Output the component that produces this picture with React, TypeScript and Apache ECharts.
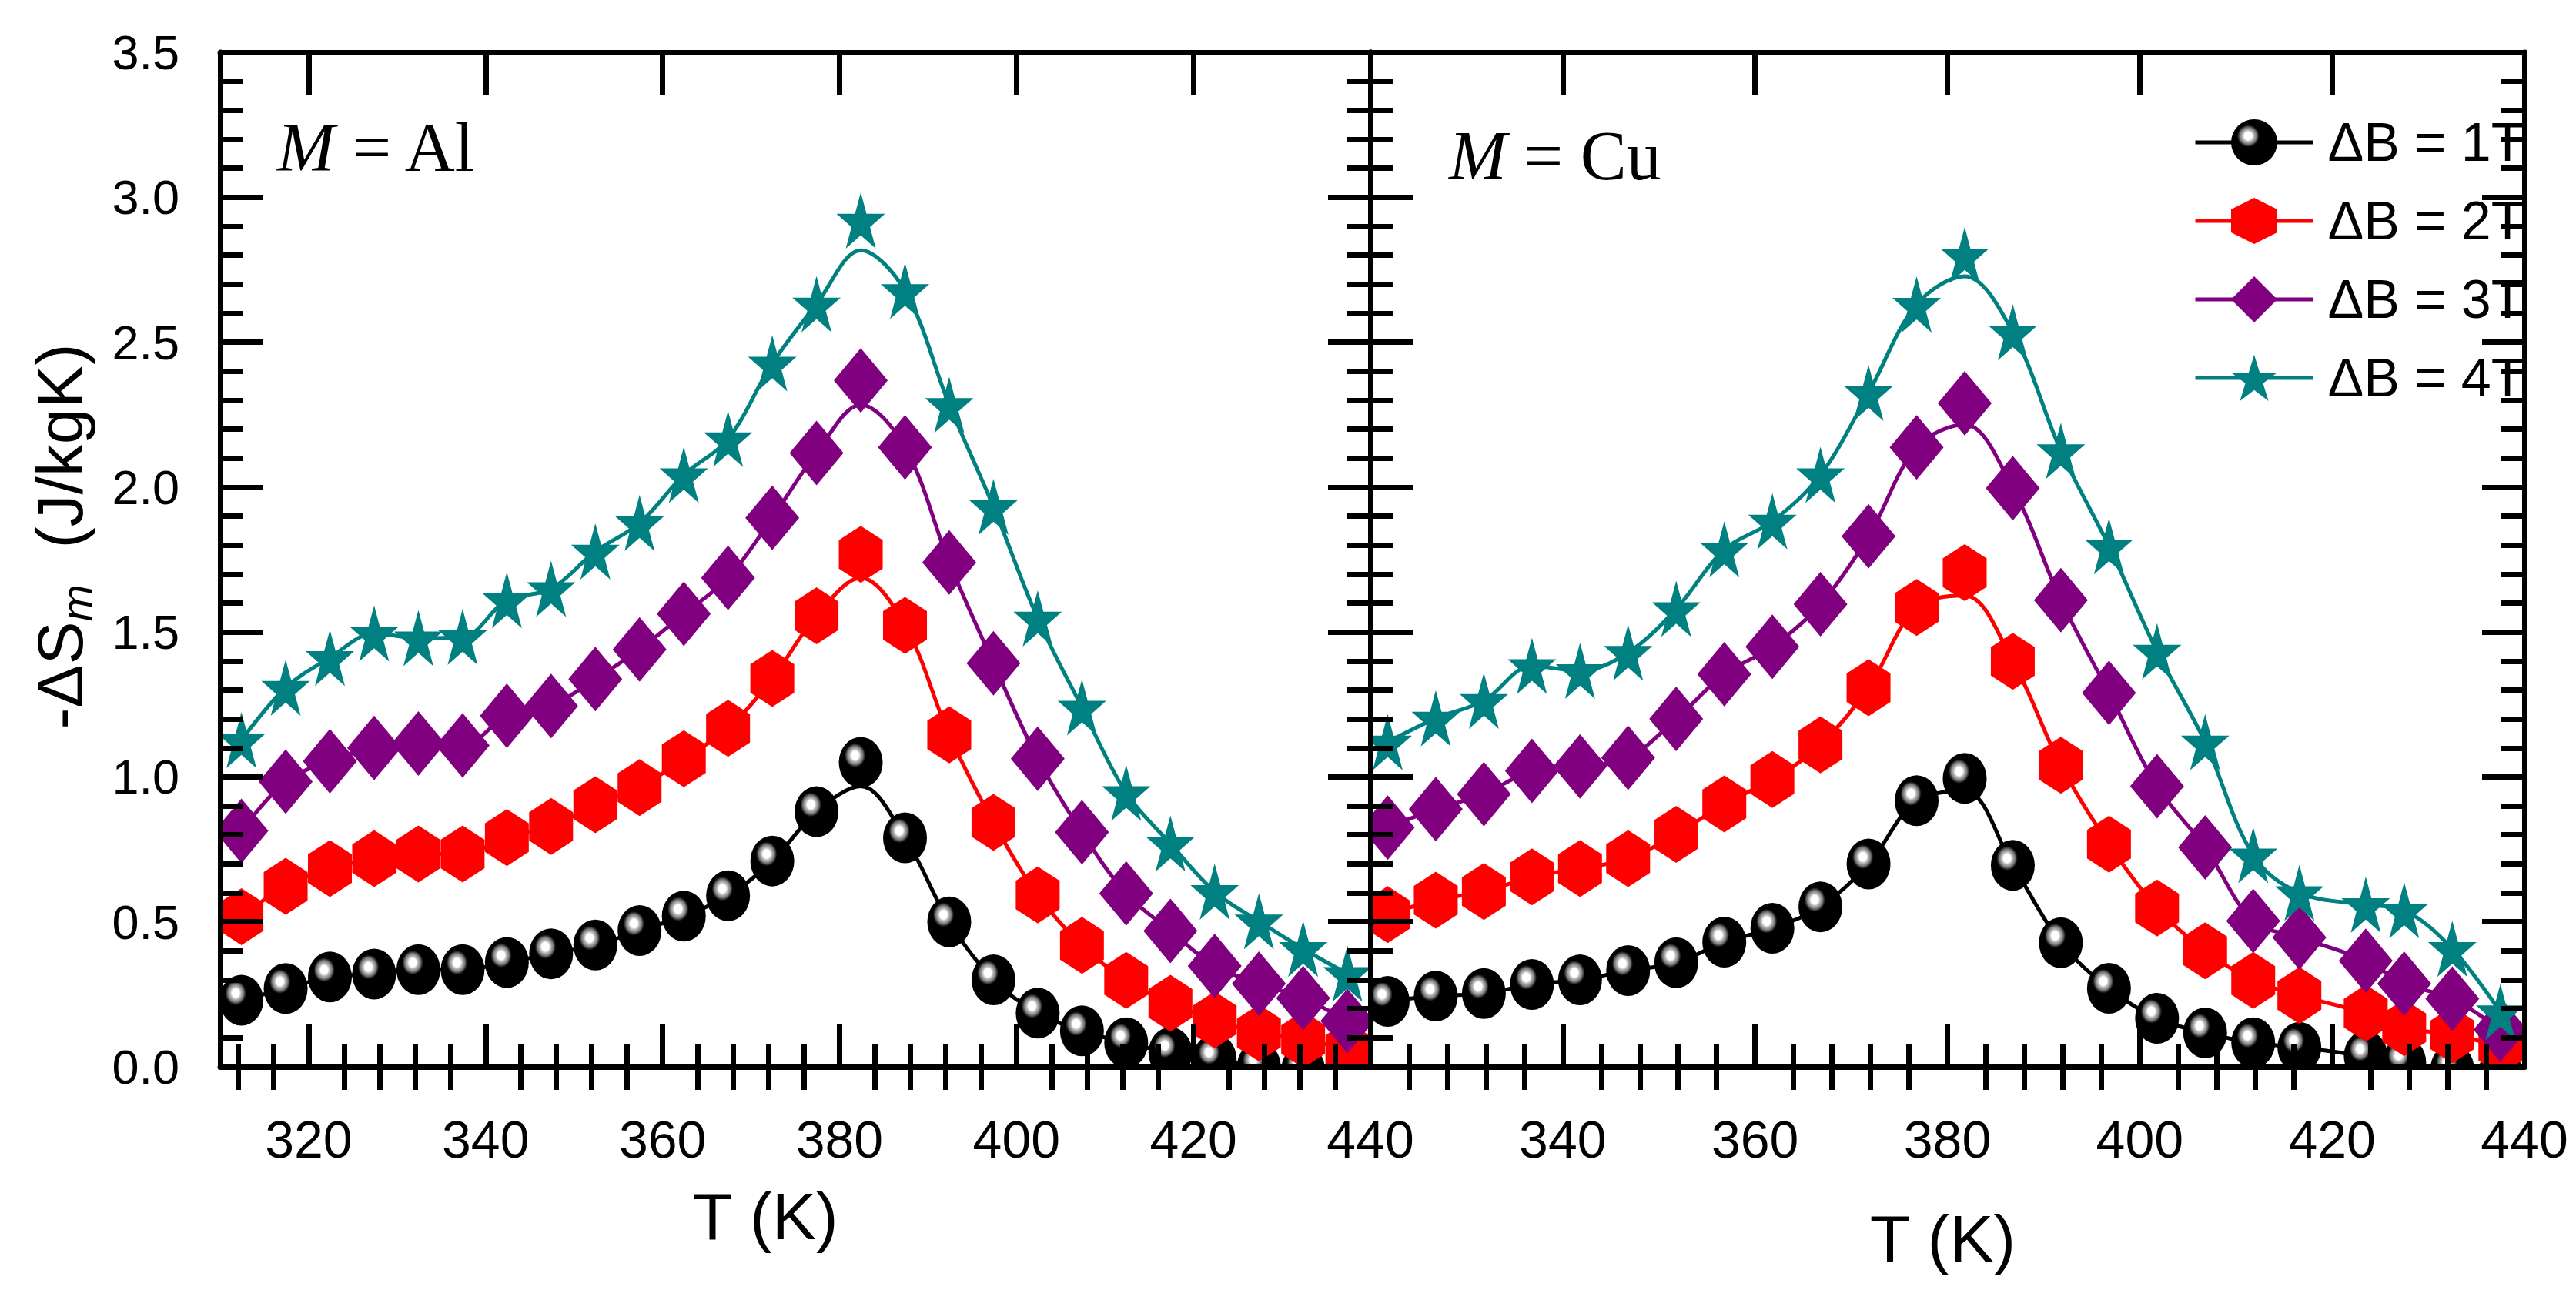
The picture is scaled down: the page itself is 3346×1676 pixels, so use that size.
import { useEffect, useRef } from 'react';
import * as echarts from 'echarts';

// temperatures (K) of the measured points
const AL_T = [312.4, 317.4, 322.4, 327.4, 332.4, 337.4, 342.4, 347.4, 352.4, 357.4, 362.4, 367.4, 372.4,
  377.4, 382.4, 387.4, 392.4, 397.4, 402.4, 407.4, 412.4, 417.4, 422.4, 427.4, 432.4, 437.4];
const CU_T = [321.8, 326.8, 331.8, 336.8, 341.8, 346.8, 351.8, 356.8, 361.8, 366.8, 371.8, 376.8,
  381.8, 386.8, 391.8, 396.8, 401.8, 406.8, 411.8, 416.6, 423.5, 427.5, 432.5, 437.5];

// -ΔSm (J/kgK), M = Al
const AL_1T = [0.23, 0.27, 0.31, 0.32, 0.335, 0.335, 0.36, 0.39, 0.42, 0.47, 0.52, 0.59, 0.71,
  0.88, 1.05, 0.79, 0.5, 0.3, 0.185, 0.124, 0.083, 0.049, 0.026, 0.0, -0.01, -0.02];
const AL_2T = [0.518, 0.623, 0.684, 0.718, 0.734, 0.734, 0.791, 0.829, 0.904, 0.963, 1.063, 1.168, 1.34,
  1.556, 1.768, 1.523, 1.145, 0.843, 0.593, 0.419, 0.298, 0.219, 0.162, 0.117, 0.094, 0.06];
const AL_3T = [0.814, 0.984, 1.054, 1.1, 1.115, 1.109, 1.211, 1.245, 1.338, 1.44, 1.563, 1.687, 1.894,
  2.118, 2.368, 2.137, 1.74, 1.392, 1.063, 0.809, 0.598, 0.469, 0.348, 0.287, 0.237, 0.158];
const AL_4T = [1.127, 1.308, 1.411, 1.495, 1.479, 1.483, 1.61, 1.649, 1.778, 1.876, 2.042, 2.166, 2.427,
  2.631, 2.92, 2.677, 2.284, 1.932, 1.547, 1.24, 0.945, 0.77, 0.604, 0.502, 0.407, 0.321];
// the fitted curve sits below the marker at the peak
const AL_PEAK_INDEX = 14;
const AL_FIT_PEAK = [0.968, 1.687, 2.284, 2.817];

// -ΔSm (J/kgK), M = Cu
const CU_1T = [0.226, 0.244, 0.253, 0.284, 0.3, 0.332, 0.359, 0.43, 0.478, 0.552, 0.7, 0.918,
  0.995, 0.695, 0.428, 0.271, 0.167, 0.117, 0.083, 0.067, 0.037, 0.015, -0.008, -0.02];
const CU_2T = [0.525, 0.575, 0.605, 0.655, 0.684, 0.718, 0.802, 0.907, 0.991, 1.111, 1.308, 1.585,
  1.705, 1.399, 1.04, 0.768, 0.548, 0.4, 0.298, 0.246, 0.185, 0.135, 0.11, 0.071];
const CU_3T = [0.825, 0.889, 0.941, 1.021, 1.036, 1.066, 1.2, 1.354, 1.449, 1.596, 1.83, 2.137,
  2.289, 1.996, 1.61, 1.29, 0.968, 0.757, 0.503, 0.446, 0.366, 0.287, 0.235, 0.128];
const CU_4T = [1.12, 1.202, 1.263, 1.383, 1.366, 1.429, 1.58, 1.785, 1.882, 2.042, 2.325, 2.63,
  2.8, 2.534, 2.125, 1.796, 1.433, 1.12, 0.73, 0.6, 0.559, 0.54, 0.407, 0.189];
const CU_PEAK_INDEX = 12;
const CU_FIT_PEAK = [0.95, 1.626, 2.216, 2.727];

const SERIES_NAMES = ['ΔB = 1T', 'ΔB = 2T', 'ΔB = 3T', 'ΔB = 4T'];

// tick values
const AL_MAJOR = [320, 340, 360, 380, 400, 420, 440];
const AL_MINOR = [312, 316, 324, 328, 332, 336, 344, 348, 352, 356, 364, 368, 372, 376, 384, 388, 392, 396, 404, 408, 412, 416, 424, 428, 432, 436];
const CU_MAJOR = [320, 340, 360, 380, 400, 420, 440];
const CU_LABELS = [340, 360, 380, 400, 420, 440];
const CU_MINOR = [324, 328, 332, 336, 344, 348, 352, 356, 364, 368, 372, 376, 384, 388, 392, 396, 404, 408, 412, 416, 424, 428, 432, 436];

const SANS = "'Liberation Sans', Arial, sans-serif";
const SERIF = "'Liberation Serif', 'Times New Roman', serif";

const COLORS = ['#000000', '#ff0000', '#800080', '#008080'];
const BALL = 'path://M-1,0A1,1 0 1,1 1,0A1,1 0 1,1 -1,0Z';
const HEX = 'path://M0,-1L0.866,-0.5L0.866,0.5L0,1L-0.866,0.5L-0.866,-0.5Z';
const STAR = 'path://M0,-1L0.2245,-0.309L0.951,-0.309L0.363,0.118L0.588,0.809L0,0.382L-0.588,0.809L-0.363,0.118L-0.951,-0.309L-0.2245,-0.309Z';
const SYMBOLS = [BALL, HEX, 'diamond', STAR];
const SIZES = [[57, 66], [57, 74], [70, 84], [63, 73]];

const ballFill = () => new echarts.graphic.RadialGradient(0.37, 0.36, 0.24, [
  { offset: 0, color: '#ffffff' },
  { offset: 0.35, color: '#ffffff' },
  { offset: 0.5, color: '#bdbdbd' },
  { offset: 0.75, color: '#777777' },
  { offset: 0.9, color: '#2a2a2a' },
  { offset: 1, color: '#000000' },
]);

const LINE = { color: '#000', width: 7 };

function xAxes(gridIndex: number, min: number, max: number, majors: number[], minors: number[], labels: number[],
  nameGap: number, namePad: number[]) {
  const common = {
    type: 'value', gridIndex, min, max, z: 10,
    splitLine: { show: false }, minorTick: { show: false }, minorSplitLine: { show: false },
  };
  const noLabel = { show: false };
  return [
    {
      ...common, position: 'bottom',
      axisLine: { show: true, onZero: false, lineStyle: LINE },
      axisTick: { show: true, inside: true, length: 55, customValues: majors, lineStyle: LINE },
      axisLabel: {
        show: true, customValues: labels, fontSize: 68, fontFamily: SANS, color: '#000', margin: 60,
        showMinLabel: true, showMaxLabel: true, hideOverlap: false,
      },
      name: 'T (K)', nameLocation: 'middle', nameGap,
      nameTextStyle: { fontSize: 86, fontFamily: SANS, color: '#000', padding: namePad },
    },
    {
      ...common, position: 'bottom',
      axisLine: { show: false },
      axisTick: { show: true, inside: true, length: 30, customValues: minors, lineStyle: LINE },
      axisLabel: noLabel,
    },
    {
      ...common, position: 'top',
      axisLine: { show: true, onZero: false, lineStyle: LINE },
      axisTick: { show: true, inside: true, length: 55, customValues: majors, lineStyle: LINE },
      axisLabel: noLabel,
    },
    {
      ...common, position: 'top',
      axisLine: { show: false },
      axisTick: { show: true, inside: true, length: 30, customValues: minors, lineStyle: LINE },
      axisLabel: noLabel,
    },
  ];
}

function yAxis(gridIndex: number, position: string, withLabels: boolean) {
  return {
    type: 'value', gridIndex, position, min: 0, max: 3.5, interval: 0.5, z: 10,
    splitLine: { show: false },
    axisLine: { show: true, onZero: false, lineStyle: LINE },
    axisTick: { show: true, inside: true, length: 55, lineStyle: LINE },
    minorTick: { show: true, splitNumber: 5, length: 30, lineStyle: LINE },
    axisLabel: {
      show: withLabels, fontSize: 63, fontFamily: SANS, color: '#000', margin: 53,
      formatter: (v: number) => v.toFixed(1),
    },
  };
}

function panelSeries(xIdx: number, yIdx: number, temps: number[], sets: number[][], peakIdx: number,
  fitPeak: number[], z: number) {
  const out: any[] = [];
  sets.forEach((vals, i) => {
    out.push({
      type: 'line', xAxisIndex: xIdx, yAxisIndex: yIdx, z, clip: false, silent: true,
      data: temps.map((t, k) => [t, k === peakIdx ? fitPeak[i] : vals[k]]),
      smooth: 0.35, symbol: 'none',
      lineStyle: { color: COLORS[i], width: 5 },
    });
    out.push({
      type: 'line', name: SERIES_NAMES[i], xAxisIndex: xIdx, yAxisIndex: yIdx, z, clip: false, silent: true,
      data: temps.map((t, k) => [t, vals[k]]),
      symbol: SYMBOLS[i], symbolSize: SIZES[i], showSymbol: true, showAllSymbol: true,
      itemStyle: { color: i === 0 ? ballFill() : COLORS[i], opacity: 1 },
      lineStyle: { color: COLORS[i], width: 0, opacity: 0 },
      emphasis: { disabled: true },
    });
  });
  return out;
}

export default function App() {
  const chartRef = useRef<HTMLDivElement>(null);

  useEffect(() => {
    if (!chartRef.current) return;
    const chart = echarts.init(chartRef.current, null, { renderer: 'svg' });

    chart.setOption({
      animation: false,
      backgroundColor: '#ffffff',
      grid: [
        { left: 286, top: 68, width: 1494, height: 1318, outerBoundsMode: 'none' },
        { left: 1780, top: 68, width: 1499, height: 1318, outerBoundsMode: 'none' },
      ],
      xAxis: [
        ...xAxes(0, 310, 440, AL_MAJOR, AL_MINOR, AL_MAJOR, 151, [0, 78, 0, 0]),
        ...xAxes(1, 320, 440, CU_MAJOR, CU_MINOR, CU_LABELS, 180, [0, 12, 0, 0]),
      ],
      yAxis: [
        {
          ...yAxis(0, 'left', true),
          name: '-ΔS{sub|m}  (J/kgK)', nameLocation: 'middle', nameRotate: 90, nameGap: 158,
          nameTextStyle: {
            fontSize: 84, fontFamily: SANS, color: '#000', lineHeight: 100, padding: [0, 0, 0, 60],
            rich: {
              sub: { fontSize: 58, fontFamily: SANS, fontStyle: 'italic', color: '#000', verticalAlign: 'bottom', lineHeight: 62 },
            },
          },
        },
        yAxis(0, 'right', false),
        yAxis(1, 'left', false),
        yAxis(1, 'right', false),
      ],
      legend: {
        orient: 'vertical', left: 2849, top: 150, padding: 0,
        itemWidth: 153, itemHeight: 75, itemGap: 32,
        data: SERIES_NAMES, selectedMode: false,
        lineStyle: { width: 5, opacity: 1 },
        textStyle: { fontSize: 70, fontFamily: SANS, color: '#000', padding: [0, 0, 0, 14] },
      },
      graphic: [
        { type: 'rect', silent: true, z: 3, shape: { x: 1730, y: 60, width: 50, height: 1340 }, style: { fill: '#ffffff' } },
        { type: 'rect', silent: true, z: 6, shape: { x: 0, y: 1390, width: 3346, height: 50 }, style: { fill: '#ffffff' } },
        { type: 'rect', silent: true, z: 6, shape: { x: 0, y: 0, width: 283, height: 1676 }, style: { fill: '#ffffff' } },
        {
          type: 'text', x: 360, y: 191, z: 12,
          style: {
            text: '{it|M} = Al', fontSize: 90, fontFamily: SERIF, fill: '#000', verticalAlign: 'middle',
            rich: { it: { fontSize: 90, fontFamily: SERIF, fontStyle: 'italic', fill: '#000' } },
          },
        },
        {
          type: 'text', x: 1882, y: 202, z: 12,
          style: {
            text: '{it|M} = Cu', fontSize: 90, fontFamily: SERIF, fill: '#000', verticalAlign: 'middle',
            rich: { it: { fontSize: 90, fontFamily: SERIF, fontStyle: 'italic', fill: '#000' } },
          },
        },
      ],
      series: [
        ...panelSeries(4, 2, CU_T, [CU_1T, CU_2T, CU_3T, CU_4T], CU_PEAK_INDEX, CU_FIT_PEAK, 2),
        ...panelSeries(0, 0, AL_T, [AL_1T, AL_2T, AL_3T, AL_4T], AL_PEAK_INDEX, AL_FIT_PEAK, 4),
      ],
    });

    return () => chart.dispose();
  }, []);

  return (
    <div
      ref={chartRef}
      style={{ position: 'fixed', left: 0, top: 0, width: 3346, height: 1676, background: '#fff' }}
    />
  );
}
